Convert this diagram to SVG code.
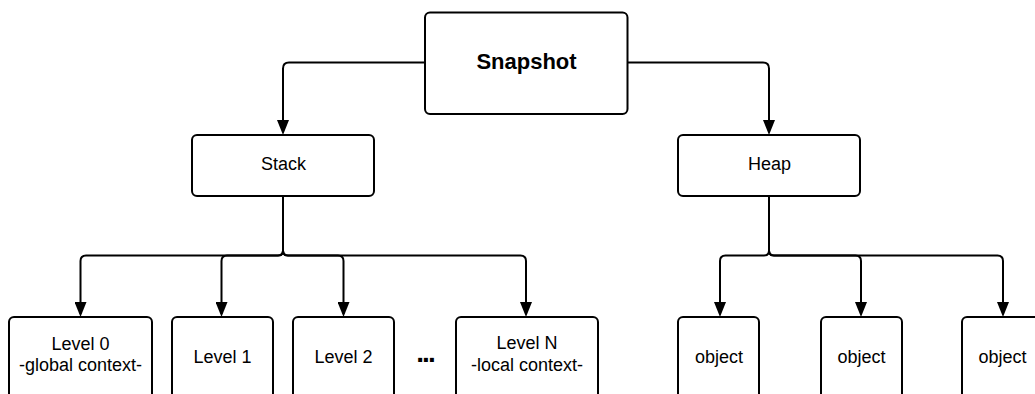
<svg xmlns="http://www.w3.org/2000/svg" width="1035" height="394" viewBox="0 0 1035 394">
  <defs>
    <style>
      .box { fill: #ffffff; stroke: #000000; stroke-width: 2; }
      .wire { fill: none; stroke: #000000; stroke-width: 2; }
      .lbl { font-family: "Liberation Sans", Arial, sans-serif; font-size: 18px; fill: #000000; text-anchor: middle; }
      .title { font-family: "Liberation Sans", Arial, sans-serif; font-size: 22px; font-weight: bold; fill: #000000; text-anchor: middle; }
      .dots { font-family: "Liberation Sans", Arial, sans-serif; font-size: 28px; font-weight: bold; fill: #000000; text-anchor: middle; letter-spacing: -2px; }
    </style>
    <marker id="arrow" viewBox="0 0 15 12" refX="12" refY="6" markerWidth="15" markerHeight="12" markerUnits="userSpaceOnUse" orient="auto">
      <path d="M0,0 L15,6 L0,12 Z" fill="#000000"/>
    </marker>
  </defs>

  <rect width="1035" height="394" fill="#ffffff"/>

  <!-- connectors -->
  <g id="connectors" class="wire" marker-end="url(#arrow)">
    <path d="M425,62.5 H289 Q283,62.5 283,68.5 V132"/>
    <path d="M627.5,62.5 H763 Q769,62.5 769,68.5 V132"/>

    <path d="M283,196 V250.5 Q283,255.5 278,255.5 H86 Q80.5,255.5 80.5,261 V314"/>
    <path d="M283,196 V250.5 Q283,255.5 278,255.5 H227 Q221.5,255.5 221.5,261 V314"/>
    <path d="M283,196 V250.5 Q283,255.5 288,255.5 H338 Q343.5,255.5 343.5,261 V314"/>
    <path d="M283,196 V250.5 Q283,255.5 288,255.5 H520.5 Q526,255.5 526,261 V314"/>

    <path d="M769,196 V250.5 Q769,255.5 764,255.5 H725.5 Q720,255.5 720,261 V314"/>
    <path d="M769,196 V250.5 Q769,255.5 774,255.5 H855.5 Q861,255.5 861,261 V314"/>
    <path d="M769,196 V250.5 Q769,255.5 774,255.5 H997.5 Q1003,255.5 1003,261 V314"/>
  </g>

  <g id="snapshot">
    <rect class="box" x="425" y="12.5" width="202.5" height="101.5" rx="5"/>
    <text class="title" x="526.5" y="68.5">Snapshot</text>
  </g>

  <g id="stack">
    <rect class="box" x="192" y="135" width="182" height="61" rx="5"/>
    <text class="lbl" x="283.5" y="170">Stack</text>
  </g>

  <g id="heap">
    <rect class="box" x="678" y="135" width="182" height="61" rx="5"/>
    <text class="lbl" x="769.5" y="170">Heap</text>
  </g>

  <g id="level0">
    <rect class="box" x="9" y="317" width="143" height="90" rx="5"/>
    <text class="lbl" x="80.5" y="350">Level 0</text>
    <text class="lbl" x="80.5" y="371">-global context-</text>
  </g>

  <g id="level1">
    <rect class="box" x="172" y="317" width="101" height="90" rx="5"/>
    <text class="lbl" x="222.5" y="362.5">Level 1</text>
  </g>

  <g id="level2">
    <rect class="box" x="293" y="317" width="101" height="90" rx="5"/>
    <text class="lbl" x="343.5" y="362.5">Level 2</text>
  </g>

  <g id="ellipsis">
    <text class="dots" x="425" y="362">...</text>
  </g>

  <g id="levelN">
    <rect class="box" x="456" y="317" width="142" height="90" rx="5"/>
    <text class="lbl" x="527" y="349">Level N</text>
    <text class="lbl" x="527" y="371">-local context-</text>
  </g>

  <g id="object1">
    <rect class="box" x="678" y="317" width="81" height="90" rx="5"/>
    <text class="lbl" x="719" y="362.5">object</text>
  </g>

  <g id="object2">
    <rect class="box" x="821" y="317" width="81" height="90" rx="5"/>
    <text class="lbl" x="861.5" y="362.5">object</text>
  </g>

  <g id="object3">
    <rect class="box" x="962" y="317" width="81" height="90" rx="5"/>
    <text class="lbl" x="1002.5" y="362.5">object</text>
  </g>
</svg>
